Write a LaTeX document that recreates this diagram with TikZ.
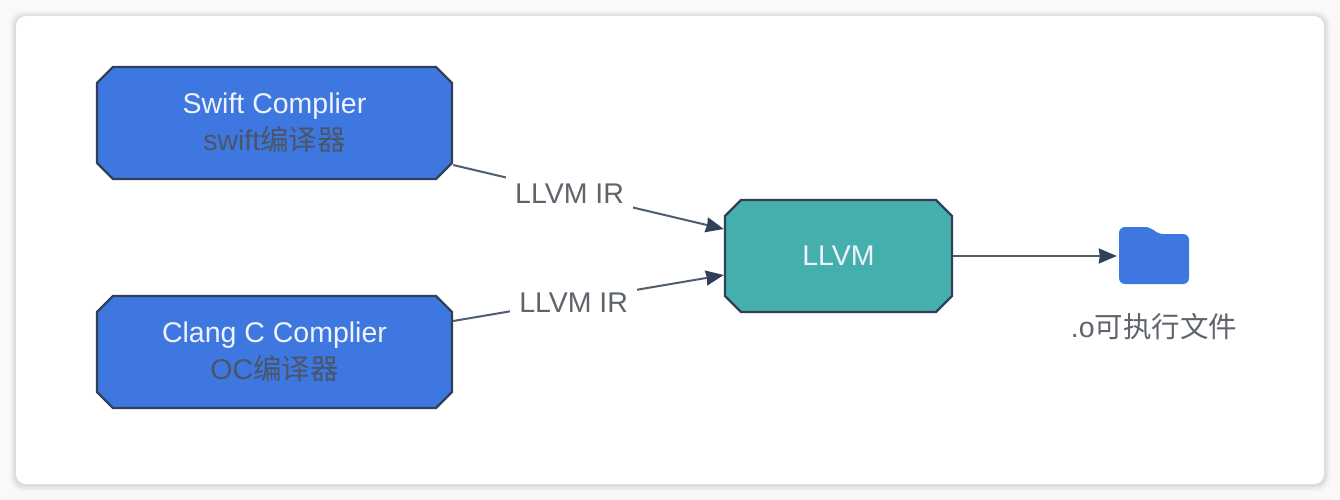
\documentclass[tikz,border=0pt]{standalone}
\usepackage{fontspec}
\setmainfont{Liberation Sans}
\newfontfamily\cjk{Noto Sans CJK SC}
\usetikzlibrary{shapes.misc,arrows.meta,calc}
\definecolor{pagebg}{HTML}{F9F9F9}
\definecolor{shadowa}{HTML}{F2F2F2}
\definecolor{shadowb}{HTML}{E8E8E8}
\definecolor{shadowc}{HTML}{DCDCDC}
\definecolor{blueb}{HTML}{3F77E0}
\definecolor{tealb}{HTML}{45AFAE}
\definecolor{edgec}{HTML}{2F4058}
\definecolor{linec}{HTML}{4F5D6E}
\definecolor{txtc}{HTML}{5F646C}
\definecolor{subc}{HTML}{4A5568}
\definecolor{whitec}{HTML}{EEF3FC}
\tikzset{
  x=1pt,y=-1pt,
  octo/.style={chamfered rectangle,chamfered rectangle xsep=8pt,chamfered rectangle ysep=8pt,
    draw=edgec,line width=2.4pt,inner sep=0pt,align=center,
    minimum width=355pt,font=\fontsize{28.5}{37}\selectfont},
  conn/.style={draw=linec,line width=2pt,-{Stealth[length=18pt,width=15pt,inset=1pt,color=edgec]}},
  lbl/.style={fill=white,text=txtc,inner xsep=9pt,inner ysep=8pt,font=\fontsize{28.5}{34}\selectfont},
}
\begin{document}
\begin{tikzpicture}
\useasboundingbox (0,0) rectangle (1340,500);
\fill[pagebg] (0,0) rectangle (1340,500);
\fill[shadowa,rounded corners=13pt] (10,11) rectangle (1330,491);
\fill[shadowb,rounded corners=12pt] (12,13) rectangle (1328,489);
\fill[shadowc,rounded corners=11pt] (14,15) rectangle (1326,487);
\fill[white,rounded corners=10pt] (16,16) rectangle (1324,484);
\node[octo,fill=blueb,minimum height=112pt] (swift) at (274.5,123)
  {\textcolor{whitec}{Swift Complier}\\\textcolor{subc}{swift{\cjk 编译器}}};
\node[octo,fill=blueb,minimum height=112pt] (clang) at (274.5,352)
  {\textcolor{whitec}{Clang C Complier}\\\textcolor{subc}{OC{\cjk 编译器}}};
\node[octo,fill=tealb,minimum width=227pt,minimum height=112pt,text=whitec] (llvm) at (838.5,256) {LLVM};
\fill[blueb,rounded corners=6pt] (1119,284) -- (1119,227) -- (1151,227) -- (1157,234) -- (1189,234) -- (1189,284) -- cycle;
\node[inner sep=0pt,minimum width=70pt,minimum height=58pt] (folder) at (1154,255) {};
\node[text=txtc,inner sep=0pt,font=\fontsize{28.5}{34}\selectfont] (out) at (1154,327) {.o{\cjk 可执行文件}};
\draw[conn] ($(swift.east)+(0,42)$) -- node[lbl,pos=0.43,yshift=-1pt] {LLVM IR} ($(llvm.west)+(0,-27)$);
\draw[conn] ($(clang.east)+(0,-31)$) -- node[lbl,pos=0.445,yshift=-2pt] {LLVM IR} ($(llvm.west)+(0,19)$);
\draw[conn] (llvm.east) -- ($(folder.west)+(-2,1)$);
\end{tikzpicture}
\end{document}
